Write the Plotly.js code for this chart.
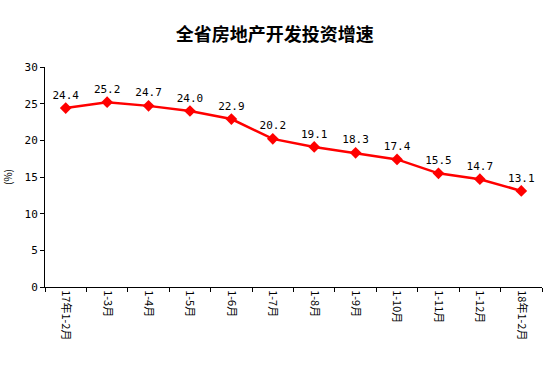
<!DOCTYPE html>
<html><head><meta charset="utf-8">
<script src="https://cdn.plot.ly/plotly-3.0.1.min.js"></script>
<style>html,body{margin:0;padding:0;background:#fff}</style>
</head><body>
<div id="chart" style="width:554px;height:367px"></div>
<script>
const categories = ["17年1-2月","1-3月","1-4月","1-5月","1-6月","1-7月","1-8月","1-9月","1-10月","1-11月","1-12月","18年1-2月"];
const growth = [24.4,25.2,24.7,24.0,22.9,20.2,19.1,18.3,17.4,15.5,14.7,13.1];
const yTicks = [0,5,10,15,20,25,30];

const trace = {
  x: categories, y: growth, type: 'scatter', mode: 'lines+markers+text',
  line: {color: '#ff0000', width: 2.5},
  marker: {symbol: 'diamond', size: 9, color: '#ff0000'},
  text: growth.map(v => v.toFixed(1)), textposition: 'top center',
  textfont: {family: 'DejaVu Sans Mono, monospace', size: 11, color: '#000'},
  cliponaxis: false, hoverinfo: 'none'
};
const layout = {
  width: 554, height: 367,
  margin: {l: 45, r: 12, t: 67, b: 80},
  paper_bgcolor: '#fff', plot_bgcolor: '#fff',
  showlegend: false,
  title: {text: '全省房地产开发投资增速', x: 0.496, xanchor: 'center', y: 0.905, yanchor: 'middle',
    font: {family: 'Noto Sans CJK SC', size: 18, color: '#000', weight: 'bold'}},
  xaxis: {type: 'category', tickson: 'boundaries', ticks: 'outside', ticklen: 4, tickcolor: '#000',
    showline: true, linecolor: '#000', linewidth: 1, showgrid: false, zeroline: false,
    tickangle: 90, tickfont: {family: 'Noto Sans CJK SC', size: 11, color: '#000'},
    range: [-0.5, 11.5]},
  yaxis: {range: [0, 30], tickvals: yTicks, ticks: 'outside', ticklen: 4, tickcolor: '#000',
    showline: true, linecolor: '#000', linewidth: 1, showgrid: false, zeroline: false,
    tickfont: {family: 'DejaVu Sans Mono, monospace', size: 11, color: '#000'},
    title: {text: '(%)', standoff: 16, font: {family: 'Noto Sans CJK SC', size: 10, color: '#000'}}}
};
Plotly.newPlot('chart', [trace], layout, {staticPlot: true});
</script>
</body></html>
